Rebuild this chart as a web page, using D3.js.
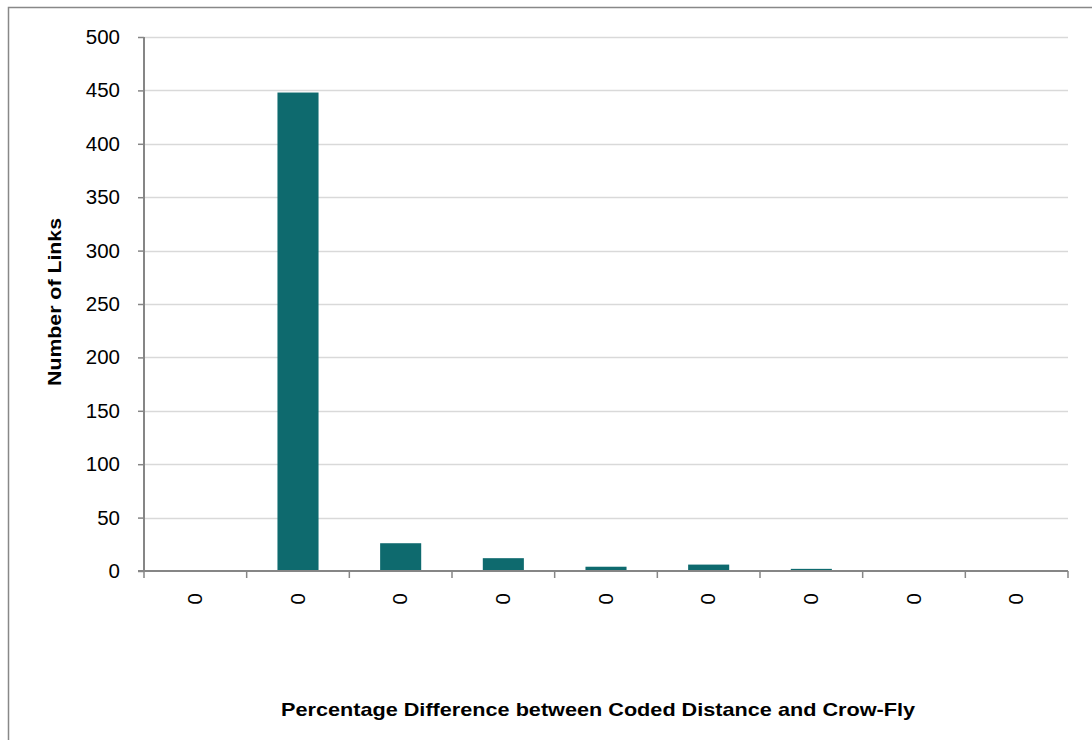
<!DOCTYPE html>
<html><head><meta charset="utf-8">
<script src="https://cdn.jsdelivr.net/npm/d3@7"></script>
<style>html,body{margin:0;padding:0;background:#fff;}svg{display:block;}</style>
</head><body>
<svg id="chart" width="1092" height="740"></svg>
<script>
const categories = ["c1","c2","c3","c4","c5","c6","c7","c8","c9"];
const tickLabels = ["0","0","0","0","0","0","0","0","0"];
const values = [0, 448, 26, 12, 4, 6, 2, 0, 0];
const yTicks = [0,50,100,150,200,250,300,350,400,450,500];
const yTitle = "Number of Links";
const xTitle = "Percentage Difference between Coded Distance and Crow-Fly";

const svg = d3.select("#chart");
const font = "'Liberation Sans', Arial, sans-serif";
const L = 144, R = 1068, T = 37, B = 571;

svg.append("rect").attr("x",8.5).attr("y",7.5).attr("width",1100).attr("height",760)
  .attr("fill","#fff").attr("stroke","#888").attr("stroke-width",1.5);

const x = d3.scaleBand().domain(categories).range([L,R]).paddingInner(0.6).paddingOuter(0.3);
const xb = d3.scaleBand().domain(categories).range([L,R]);
const y = d3.scaleLinear().domain([0,500]).range([B,T]);

// gridlines
svg.append("g").selectAll("line").data(yTicks.filter(d=>d>0)).join("line")
  .attr("x1",L).attr("x2",R).attr("y1",d=>Math.round(y(d))+0.5).attr("y2",d=>Math.round(y(d))+0.5)
  .attr("stroke","#d9d9d9").attr("stroke-width",1.5);

// bars
svg.append("g").selectAll("rect").data(values).join("rect")
  .attr("x",(d,i)=>x(categories[i])).attr("width",x.bandwidth())
  .attr("y",d=>y(d)).attr("height",d=>B-y(d))
  .attr("fill","#0e6a6e");

// y axis
const yAxis = d3.axisLeft(y).tickValues(yTicks).tickSize(6).tickPadding(18);
const gy = svg.append("g").attr("transform",`translate(${L},0)`).call(yAxis);
gy.select(".domain").attr("stroke","#868686").attr("stroke-width",2).attr("d",`M0,${T}V${B}`);
gy.selectAll(".tick line").attr("stroke","#868686").attr("stroke-width",1.5);
gy.selectAll(".tick text").attr("font-family",font).attr("font-size",20.5).attr("fill","#000");

// x axis
const xAxis = d3.axisBottom(xb).tickSize(0).tickFormat((d,i)=>tickLabels[i]);
const gx = svg.append("g").attr("transform",`translate(0,${B})`).call(xAxis);
gx.select(".domain").attr("stroke","#868686").attr("stroke-width",2).attr("d",`M${L-6},0H${R}`);
gx.selectAll(".tick text").attr("font-family",font).attr("font-size",20.5).attr("fill","#000")
  .attr("transform","translate(0,28) rotate(90)").attr("text-anchor","middle").attr("dy","0.35em").attr("y",0);
// boundary ticks
const bounds = categories.map(c=>xb(c)).concat([R]);
svg.append("g").selectAll("line").data(bounds).join("line")
  .attr("x1",d=>d).attr("x2",d=>d).attr("y1",B).attr("y2",B+7)
  .attr("stroke","#868686").attr("stroke-width",1.5);

// titles
svg.append("text").attr("x",598).attr("y",716).attr("text-anchor","middle")
  .attr("font-family",font).attr("font-weight","bold").attr("font-size",19)
  .attr("textLength",634).attr("lengthAdjust","spacingAndGlyphs").text(xTitle);
svg.append("text").attr("transform","translate(61,302) rotate(-90)").attr("text-anchor","middle")
  .attr("font-family",font).attr("font-weight","bold").attr("font-size",19)
  .attr("textLength",168).attr("lengthAdjust","spacingAndGlyphs").text(yTitle);
</script>
</body></html>
